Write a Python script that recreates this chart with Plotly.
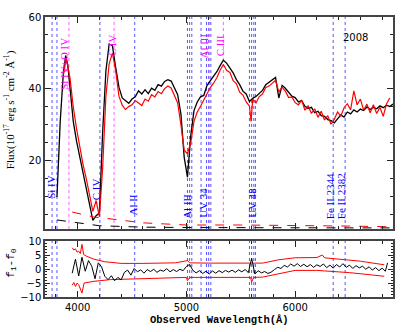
import plotly.graph_objects as go

# ---- top panel: spectra (wavelength in A, flux in 1e-17 erg/s/cm2/A) ----
spec_f0 = [  # black, year-1 spectrum
    (3810, 10.0), (3840, 31.0), (3870, 45.0), (3890, 49.3), (3910, 46.5), (3930, 40.0), (3960, 31.0),
    (3990, 25.5), (4020, 21.0), (4050, 16.5), (4080, 12.0), (4110, 7.0), (4140, 3.5),
    (4170, 4.8), (4200, 5.5), (4230, 28.0), (4260, 45.0), (4290, 52.5), (4320, 52.0),
    (4350, 46.0), (4380, 40.5), (4410, 37.5), (4440, 36.8), (4470, 36.0), (4500, 37.2),
    (4530, 37.8), (4560, 39.5), (4590, 38.6), (4620, 39.8), (4650, 38.7), (4680, 40.2),
    (4710, 39.6), (4740, 41.2), (4770, 40.8), (4800, 42.1), (4830, 42.6), (4860, 42.2),
    (4890, 40.5), (4920, 38.4), (4950, 33.0), (4980, 21.0), (5010, 15.5), (5040, 27.0),
    (5070, 34.0), (5100, 36.4), (5130, 37.8), (5160, 38.2), (5190, 41.0), (5220, 42.3),
    (5250, 43.5), (5280, 44.8), (5310, 46.5), (5340, 48.0), (5370, 47.2), (5400, 45.8),
    (5430, 44.5), (5460, 42.6), (5490, 41.2), (5520, 39.4), (5550, 38.6), (5580, 36.5),
    (5610, 37.4), (5640, 37.9), (5670, 38.8), (5700, 39.6), (5730, 41.2), (5760, 41.8),
    (5790, 42.4), (5820, 43.2), (5850, 37.5), (5880, 41.0), (5910, 40.2), (5940, 39.2),
    (5970, 38.0), (6000, 37.6), (6030, 36.4), (6060, 36.8), (6090, 35.2), (6120, 34.6),
    (6150, 34.9), (6180, 33.4), (6210, 33.8), (6240, 32.6), (6270, 32.4), (6300, 31.5),
    (6330, 31.2), (6360, 30.6), (6390, 31.8), (6420, 32.8), (6450, 32.2), (6480, 33.6),
    (6510, 33.1), (6540, 34.2), (6570, 33.6), (6600, 34.4), (6630, 34.0), (6660, 35.0),
    (6690, 34.3), (6720, 34.9), (6750, 34.5), (6780, 35.3), (6810, 34.8), (6840, 35.5),
    (6870, 35.1), (6900, 35.8),
]
spec_f1 = [  # red, 2008 spectrum
    (3870, 44.0), (3895, 48.5), (3930, 43.0), (3960, 35.0), (3990, 29.0), (4020, 23.5),
    (4050, 19.0), (4080, 15.0), (4110, 10.5), (4140, 6.0), (4170, 9.0), (4200, 4.5),
    (4230, 18.0), (4260, 38.0), (4290, 47.0), (4320, 50.0), (4350, 45.0), (4380, 38.0),
    (4410, 35.5), (4440, 34.3), (4470, 35.1), (4500, 35.6), (4530, 36.8), (4560, 36.2),
    (4590, 35.4), (4620, 37.2), (4650, 36.6), (4680, 38.4), (4710, 37.8), (4740, 39.3),
    (4770, 38.7), (4800, 40.1), (4830, 40.8), (4860, 40.3), (4890, 38.2), (4920, 36.1),
    (4950, 30.0), (4980, 23.0), (5010, 22.0), (5040, 25.0), (5070, 31.0), (5100, 33.6),
    (5130, 35.2), (5160, 36.9), (5190, 38.5), (5220, 40.4), (5250, 41.6), (5280, 43.1),
    (5310, 45.2), (5340, 46.8), (5370, 45.2), (5400, 44.6), (5430, 42.3), (5460, 41.5),
    (5490, 39.1), (5520, 38.3), (5550, 36.4), (5580, 35.2), (5595, 31.0), (5610, 37.2),
    (5640, 36.1), (5670, 37.9), (5700, 38.6), (5730, 40.4), (5760, 40.8), (5790, 41.6),
    (5820, 42.4), (5850, 39.2), (5880, 40.5), (5910, 39.4), (5940, 37.6), (5970, 37.8),
    (6000, 36.2), (6030, 35.6), (6060, 36.9), (6090, 34.1), (6120, 35.3), (6150, 33.2),
    (6180, 34.5), (6210, 32.1), (6240, 33.8), (6270, 31.4), (6300, 32.6), (6330, 30.2),
    (6360, 31.5), (6390, 33.6), (6420, 32.4), (6450, 34.8), (6480, 35.9), (6510, 34.2),
    (6540, 39.5), (6570, 35.6), (6600, 37.2), (6630, 34.1), (6660, 35.8), (6690, 33.4),
    (6720, 35.6), (6750, 33.2), (6780, 34.9), (6810, 32.4), (6840, 35.8), (6870, 37.5),
]
err_f0 = [(3810, 3.6), (3900, 3.2), (4000, 2.8), (4100, 2.4), (4200, 2.0), (4400, 1.8),
          (4600, 1.6), (5000, 1.5), (5500, 1.4), (6000, 1.4), (6500, 1.4), (6900, 1.4)]
err_f1 = [(3950, 5.8), (4050, 5.0), (4150, 4.4), (4250, 4.1), (4400, 3.6), (4600, 2.8),
          (4800, 2.5), (5000, 2.2), (5500, 2.2), (6000, 2.1), (6500, 1.9), (6900, 1.7)]

# ---- bottom panel: difference f1 - f0 and its envelope ----
diff = [
    (3950, -1.5), (3980, 3.5), (4010, -2.5), (4040, 4.2), (4070, -0.8), (4100, 3.0),
    (4130, 1.0), (4160, -3.5), (4190, 2.2), (4220, 0.8), (4250, -2.6), (4280, -3.8),
    (4310, -2.4), (4340, -4.2), (4370, -3.0), (4400, -3.9), (4430, -1.2), (4460, -0.4),
    (4490, -2.2), (4520, 0.2), (4550, -1.0), (4580, -0.3), (4610, -1.5), (4640, -0.2),
    (4670, -0.9), (4700, -0.1), (4730, -1.2), (4760, -0.4), (4790, -0.8), (4820, 0.1),
    (4850, -1.0), (4880, -0.2), (4910, -0.9), (4940, -0.1), (4970, -0.6), (5000, 0.9),
    (5030, 1.6), (5060, -0.5), (5090, -1.4), (5120, -0.6), (5150, -1.6), (5180, -0.8),
    (5210, -1.8), (5240, -0.7), (5270, -1.5), (5300, -0.6), (5330, -1.3), (5360, -0.5),
    (5390, -1.1), (5420, -0.4), (5450, -1.2), (5480, -0.3), (5510, -1.0), (5540, -0.2),
    (5570, -1.3), (5600, 3.8), (5630, -1.8), (5660, -0.6), (5690, -1.4), (5720, -0.9),
    (5750, -1.6), (5780, -1.1), (5810, -0.2), (5840, 0.6), (5870, 0.2), (5900, 1.3),
    (5930, 0.7), (5960, 1.8), (5990, 1.0), (6020, 1.9), (6050, 0.9), (6080, 1.7),
    (6110, 0.8), (6140, 1.6), (6170, 0.6), (6200, 1.5), (6230, 0.9), (6260, 1.8),
    (6290, 0.5), (6320, 1.4), (6350, 0.3), (6380, 1.6), (6410, 0.7), (6440, 1.9),
    (6470, 0.6), (6500, 1.4), (6530, 0.2), (6560, 1.2), (6590, 0.4), (6620, 1.0),
    (6650, -0.1), (6680, 0.8), (6710, -0.4), (6740, 0.5), (6770, -0.6), (6800, 0.3),
    (6830, -0.8), (6850, 2.2),
]
env_hi = [(3950, 7.6), (3965, 6.8), (3980, 7.2), (3995, 6.0), (4010, 6.4), (4025, 5.5),
          (4040, 8.8), (4055, 5.2), (4080, 4.6), (4150, 3.5), (4250, 2.6), (4400, 2.0),
          (4600, 2.0), (4900, 2.2), (5010, 3.0), (5030, 2.2), (5200, 2.1), (5500, 2.1),
          (5700, 2.1), (5850, 3.3), (6000, 4.0), (6200, 4.1), (6250, 5.0), (6270, 4.0),
          (6400, 3.6), (6600, 2.8), (6820, 1.5)]
env_lo = [(3950, -5.8), (3965, -4.8), (3980, -6.2), (3995, -5.0), (4010, -5.6),
          (4040, -8.6), (4060, -5.0), (4150, -4.4), (4300, -3.8), (4500, -3.6),
          (4800, -3.2), (5000, -3.0), (5010, -4.2), (5030, -3.0), (5200, -3.0),
          (5500, -3.0), (5590, -3.0), (5600, -4.6), (5620, -3.0), (5700, -2.9),
          (5900, -1.2), (6000, -0.5), (6200, -0.5), (6350, -0.8), (6500, -1.3),
          (6700, -2.1), (6820, -2.6)]

# ---- line identifications ----
blue_lines = [3765, 3810, 4205, 4525, 5010, 5030, 5050, 5135, 5185, 5205, 5225,
              5580, 5600, 5620, 5635, 6350, 6460]
magenta_lines = [3920, 4335, 5210, 5340]
blue_labels = [("Si IV", 3755, 12.8), ("C IV", 4165, 12.0), ("Al II", 4505, 7.8),
               ("Al III", 5005, 7.5), ("UV 34", 5150, 8.3), ("UV 48", 5600, 8.3),
               ("Fe II 2344", 6315, 10.3), ("Fe II 2382", 6425, 10.3)]
magenta_labels = [("Si IV+O IV", 3875, 47.0), ("C IV", 4312, 52.0),
                  ("Al III", 5160, 52.0), ("C III", 5305, 52.0)]


def xy(pairs):
    return [p[0] for p in pairs], [p[1] for p in pairs]


fig = go.Figure()

top = dict(xaxis="x2", yaxis="y2")
for pairs, col, dash, w in [(spec_f0, "black", "solid", 1.3), (spec_f1, "#ff0000", "solid", 1.2),
                            (err_f0, "black", "dash", 1), (err_f1, "#ff0000", "dash", 1)]:
    x, y = xy(pairs)
    fig.add_trace(go.Scatter(x=x, y=y, mode="lines", line=dict(color=col, width=w, dash=dash), **top))

for pairs, col in [(env_hi, "#ff0000"), (env_lo, "#ff0000"), (diff, "black")]:
    x, y = xy(pairs)
    fig.add_trace(go.Scatter(x=x, y=y, mode="lines", line=dict(color=col, width=1)))

shapes = []
for wl in blue_lines:
    for xr, yr in [("x2", "y2 domain"), ("x", "y domain")]:
        shapes.append(dict(type="line", xref=xr, yref=yr, x0=wl, x1=wl, y0=0, y1=1,
                           line=dict(color="#2a2aff", width=0.8, dash="dot"), layer="below"))
for wl in magenta_lines:
    shapes.append(dict(type="line", xref="x2", yref="y2 domain", x0=wl, x1=wl, y0=0, y1=1,
                       line=dict(color="#ff33ff", width=0.8, dash="dot"), layer="below"))

ann = []
for txt, wl, fl in blue_labels:
    ann.append(dict(text=txt, x=wl, y=fl, xref="x2", yref="y2", textangle=-90, showarrow=False,
                    xanchor="center", yanchor="middle",
                    font=dict(family="Liberation Serif", size=11, color="#0000ff")))
for txt, wl, fl in magenta_labels:
    ann.append(dict(text=txt, x=wl, y=fl, xref="x2", yref="y2", textangle=-90, showarrow=False,
                    xanchor="center", yanchor="middle",
                    font=dict(family="Liberation Serif", size=11, color="#ff00ff")))
ann += [
    dict(text="2008", x=0.934, y=0.954, xref="paper", yref="paper", showarrow=False,
         font=dict(family="DejaVu Sans", size=10, color="black")),
    dict(text="Flux(10<sup>-17</sup> erg s<sup>-1</sup> cm<sup>-2</sup> Å<sup>-1</sup>)",
         x=-0.1, y=0.668, xref="paper", yref="paper", textangle=-90, showarrow=False,
         xanchor="center", yanchor="middle",
         font=dict(family="Liberation Serif", size=11, color="black")),
    dict(text="f<sub>1</sub>-f<sub>0</sub>", x=-0.097, y=0.12, xref="paper", yref="paper",
         textangle=-90, showarrow=False, xanchor="center", yanchor="middle",
         font=dict(family="Liberation Mono", size=11, color="black")),
    dict(text="<b>Observed Wavelength(Å)</b>", x=0.5, y=-0.082, xref="paper", yref="paper",
         showarrow=False, xanchor="center", yanchor="middle",
         font=dict(family="Liberation Mono", size=10.5, color="black")),
]

axis_common = dict(showgrid=False, zeroline=False, ticks="inside", mirror="allticks",
                   showline=True, linecolor="#444", linewidth=1.5, tickcolor="#222",
                   tickwidth=1, tickfont=dict(family="DejaVu Sans", size=10, color="black"))
x_common = dict(axis_common, range=[3700, 6900], tickvals=[4000, 5000, 6000], ticklen=6,
                minor=dict(dtick=200, tick0=3600, ticklen=3, ticks="inside", tickcolor="#222"))

fig.update_layout(
    width=415, height=332, margin=dict(l=45, r=22, t=17, b=35),
    paper_bgcolor="white", plot_bgcolor="white", showlegend=False,
    xaxis=dict(x_common, domain=[0, 1], anchor="y"),
    yaxis=dict(axis_common, domain=[0, 0.2], range=[-10, 10], tickvals=[-10, -5, 0, 5, 10],
               ticklen=5, anchor="x",
               minor=dict(dtick=1, ticklen=2.5, ticks="inside", tickcolor="#222")),
    xaxis2=dict(x_common, domain=[0, 1], anchor="y2", matches="x", showticklabels=False),
    yaxis2=dict(axis_common, domain=[0.243, 1], range=[1.1, 60], tickvals=[20, 40, 60],
                ticklen=6, anchor="x2",
                minor=dict(dtick=5, ticklen=3, ticks="inside", tickcolor="#222")),
    shapes=shapes, annotations=ann,
)

# drop the default page margin so the figure sits at the window's corner
fig.write_html("out.html", config={"displayModeBar": False},
               post_script="document.body.style.margin='0px';")
